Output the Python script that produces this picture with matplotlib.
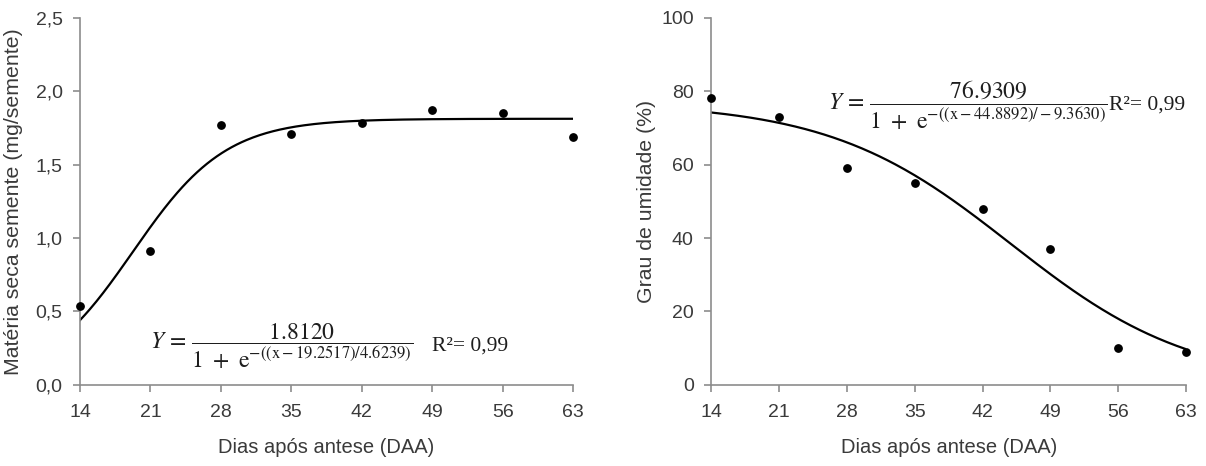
import numpy as np
import matplotlib
matplotlib.use('Agg')
from matplotlib import pyplot as plt

# dias após antese
days = [14, 21, 28, 35, 42, 49, 56, 63]
dry_matter = [0.54, 0.91, 1.77, 1.71, 1.78, 1.87, 1.85, 1.69]
moisture = [78, 73, 59, 55, 48, 37, 10, 9]

# logistic fit parameters: a / (1 + exp(-(x - x0) / b))
dry_fit = (1.8120, 19.2517, 4.6239)
moist_fit = (76.9309, 44.8892, -9.3630)

plt.rcParams.update({
    'font.family': ['Liberation Sans', 'DejaVu Sans'],
    'font.size': 14,
    'mathtext.fontset': 'stix',
})

GRAY = '#8c8c8c'
TXT = '#3a3a3a'
EQ = '#1e1e1e'


def logistic(x, a, x0, b):
    return a / (1 + np.exp(-(x - x0) / b))


def style_axes(ax):
    for side in ('top', 'right'):
        ax.spines[side].set_visible(False)
    for side in ('left', 'bottom'):
        ax.spines[side].set_color(GRAY)
        ax.spines[side].set_linewidth(1.2)
    ax.tick_params(colors=GRAY, labelcolor=TXT, length=5, width=1.2, labelsize=14)
    ax.tick_params(axis='x', pad=9)
    ax.tick_params(axis='y', pad=7.5)
    ax.set_xlim(14, 63)
    ax.set_xticks(days)
    ax.set_xlabel('Dias após antese (DAA)', color=TXT, fontsize=14.5, labelpad=12)


def equation(ax, x, y, a, x0, b, r2_x):
    txt = (r'$Y\,=\,\dfrac{%.4f}{1\ +\ \mathrm{e}^{-((\mathrm{x}-%.4f)/%.4f)}}$'
           % (a, x0, b))
    ax.text(x, y, txt, ha='left', va='center', fontsize=17, color=EQ)
    ax.text(r2_x, y, 'R²= 0,99', ha='left', va='center', fontsize=15.5,
            family='Liberation Serif', color=EQ)


fig = plt.figure(figsize=(12.06, 4.66), dpi=100)
ax1 = fig.add_axes([0.0663, 0.174, 0.409, 0.788])
ax2 = fig.add_axes([0.5896, 0.174, 0.394, 0.788])

xs = np.linspace(14, 63, 300)

# left: matéria seca
ax1.plot(xs, logistic(xs, *dry_fit), color='black', lw=1.6)
ax1.scatter(days, dry_matter, color='black', s=28, zorder=3, clip_on=False)
ax1.set_ylim(0, 2.5)
ax1.set_yticks([0, 0.5, 1.0, 1.5, 2.0, 2.5])
ax1.set_yticklabels(['0,0', '0,5', '1,0', '1,5', '2,0', '2,5'])
ax1.set_ylabel('Matéria seca semente (mg/semente)', color=TXT, fontsize=15.3, labelpad=9)
style_axes(ax1)
equation(ax1, 21.0, 0.265, *dry_fit, r2_x=49.0)

# right: grau de umidade
ax2.plot(xs, logistic(xs, *moist_fit), color='black', lw=1.6)
ax2.scatter(days, moisture, color='black', s=28, zorder=3, clip_on=False)
ax2.set_ylim(0, 100)
ax2.set_yticks([0, 20, 40, 60, 80, 100])
ax2.set_ylabel('Grau de umidade (%)', color=TXT, fontsize=15.3, labelpad=3.5)
style_axes(ax2)
equation(ax2, 26.1, 76.3, *moist_fit, r2_x=55.0)

fig.savefig('out.png', dpi=100)
